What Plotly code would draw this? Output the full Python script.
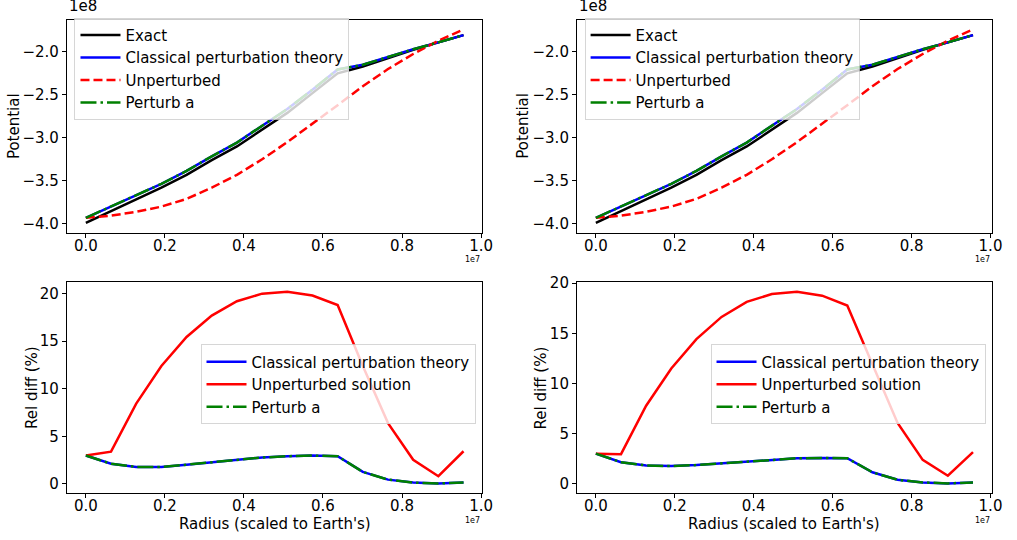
import plotly.graph_objects as go

# ---------------- data ----------------
radius_m = [0, 637100, 1274200, 1911300, 2548400, 3185500, 3822600, 4459700,
            5096800, 5733900, 6371000, 7008100, 7645200, 8282300, 8919400, 9556500]

# potentials, in units of 1e8
pot_exact = [-3.99, -3.855, -3.72, -3.58, -3.43, -3.26, -3.10, -2.91,
             -2.71, -2.48, -2.25, -2.17, -2.07, -1.975, -1.89, -1.805]
pot_classical = [-3.93, -3.80, -3.67, -3.535, -3.385, -3.215, -3.055, -2.865,
                 -2.665, -2.44, -2.205, -2.15, -2.06, -1.97, -1.89, -1.805]
pot_unperturbed = [-3.93, -3.905, -3.86, -3.80, -3.71, -3.58, -3.43, -3.25,
                   -3.05, -2.84, -2.62, -2.40, -2.20, -2.025, -1.87, -1.74]
pot_perturb_a = [-3.93, -3.80, -3.67, -3.535, -3.385, -3.215, -3.055, -2.865,
                 -2.665, -2.44, -2.205, -2.15, -2.06, -1.97, -1.89, -1.805]

# relative differences (%) - left panel
rel_classical_L = [2.99, 2.13, 1.79, 1.79, 2.03, 2.3, 2.58, 2.78,
                   2.92, 2.99, 2.92, 1.27, 0.46, 0.15, 0.06, 0.17]
rel_unpert_L = [3.0, 3.4, 8.45, 12.4, 15.45, 17.7, 19.2, 20.0,
                20.2, 19.8, 18.8, 12.4, 6.4, 2.55, 0.82, 3.44]
rel_perturb_a_L = [2.99, 2.13, 1.79, 1.79, 2.03, 2.3, 2.58, 2.78,
                   2.92, 2.99, 2.92, 1.27, 0.46, 0.15, 0.06, 0.17]

# relative differences (%) - right panel
rel_classical_R = [3.0, 2.15, 1.82, 1.76, 1.86, 2.02, 2.25, 2.41,
                   2.54, 2.57, 2.54, 1.14, 0.39, 0.13, 0.03, 0.13]
rel_unpert_R = [3.0, 2.95, 7.78, 11.5, 14.43, 16.64, 18.14, 18.93,
                19.15, 18.76, 17.78, 12.0, 6.06, 2.38, 0.8, 3.16]
rel_perturb_a_R = [3.0, 2.15, 1.82, 1.76, 1.86, 2.02, 2.25, 2.41,
                   2.54, 2.57, 2.54, 1.14, 0.39, 0.13, 0.03, 0.13]

X_SCALE = 1e7
x = [r / X_SCALE for r in radius_m]

FONT = "DejaVu Sans"
W, H = 1017, 540
LW = 2.5
DASH = "9px,4px"
DASHDOT = "16px,4px,2.5px,4px"

fig = go.Figure()


def add(xa, ya, yv, name, color, dash, legend):
    fig.add_trace(go.Scatter(x=x, y=yv, mode="lines", name=name,
                             line=dict(color=color, width=LW, dash=dash),
                             xaxis=xa, yaxis=ya, legend=legend))


# top panels
for xa, ya, lg in [("x", "y", "legend"), ("x2", "y2", "legend2")]:
    add(xa, ya, pot_exact, "Exact", "#000000", "solid", lg)
    add(xa, ya, pot_classical, "Classical perturbation theory", "#0000ff", "solid", lg)
    add(xa, ya, pot_unperturbed, "Unperturbed", "#ff0000", DASH, lg)
    add(xa, ya, pot_perturb_a, "Perturb a", "#008000", DASHDOT, lg)

# bottom panels
for xa, ya, lg, c, u, p in [("x3", "y3", "legend3", rel_classical_L, rel_unpert_L, rel_perturb_a_L),
                            ("x4", "y4", "legend4", rel_classical_R, rel_unpert_R, rel_perturb_a_R)]:
    add(xa, ya, c, "Classical perturbation theory", "#0000ff", "solid", lg)
    add(xa, ya, u, "Unperturbed solution", "#ff0000", "solid", lg)
    add(xa, ya, p, "Perturb a", "#008000", DASHDOT, lg)


def margin_range(vals):
    lo, hi = min(vals), max(vals)
    s = hi - lo
    return [lo - 0.05 * s, hi + 0.05 * s]


xr = margin_range(x)
top_r = margin_range(pot_exact + pot_classical + pot_unperturbed + pot_perturb_a)
botL_r = margin_range(rel_classical_L + rel_unpert_L + rel_perturb_a_L)
botR_r = margin_range(rel_classical_R + rel_unpert_R + rel_perturb_a_R)

ax_common = dict(showline=True, mirror=True, linecolor="black", linewidth=1.1,
                 ticks="outside", tickwidth=1.1, tickcolor="black",
                 showgrid=False, zeroline=False,
                 tickfont=dict(family=FONT, size=15, color="black"))

xL = [67.7 / W, 487.7 / W]
xR = [583.3 / W, 1002.7 / W]
yT = [1 - 228 / H, 1 - 12 / H]
yB = [1 - 492.3 / H, 1 - 278.3 / H]

xa_common = dict(range=xr, dtick=0.2, tick0=0, tickformat=".1f", ticklen=4,
                 ticklabelstandoff=-5, **ax_common)
ya_common = dict(ticklen=4, **ax_common)

fig.update_layout(
    width=W, height=H,
    margin=dict(l=0, r=0, t=0, b=0),
    paper_bgcolor="white", plot_bgcolor="white",
    font=dict(family=FONT, size=15, color="black"),
    xaxis=dict(domain=xL, anchor="y", **xa_common),
    xaxis2=dict(domain=xR, anchor="y2", **xa_common),
    xaxis3=dict(domain=xL, anchor="y3", **xa_common),
    xaxis4=dict(domain=xR, anchor="y4", **xa_common),
    yaxis=dict(domain=yT, anchor="x", range=top_r, dtick=0.5, tick0=0, tickformat=".1f", **ya_common),
    yaxis2=dict(domain=yT, anchor="x2", range=top_r, dtick=0.5, tick0=0, tickformat=".1f", **ya_common),
    yaxis3=dict(domain=yB, anchor="x3", range=botL_r, dtick=5, tick0=0, tickformat="d", **ya_common),
    yaxis4=dict(domain=yB, anchor="x4", range=botR_r, dtick=5, tick0=0, tickformat="d", **ya_common),
    showlegend=True,
)

leg_common = dict(bgcolor="rgba(255,255,255,0.8)", bordercolor="rgba(204,204,204,0.8)",
                  borderwidth=1, font=dict(family=FONT, size=15, color="black"),
                  xanchor="left", yanchor="top", itemwidth=40, tracegroupgap=0)
fig.update_layout(
    legend=dict(x=75.3 / W, y=1 - 10 / H, **leg_common),
    legend2=dict(x=591 / W, y=1 - 10 / H, **leg_common),
    legend3=dict(x=202.7 / W, y=1 - 341.5 / H, **leg_common),
    legend4=dict(x=718.3 / W, y=1 - 341.5 / H, **leg_common),
)

ann = []


def text(t, xp, yp, xa="center", ya="middle", size=15, angle=0):
    ann.append(dict(text=t, x=xp / W, y=1 - yp / H, xref="paper", yref="paper",
                    xanchor=xa, yanchor=ya, showarrow=False, textangle=angle,
                    font=dict(family=FONT, size=size, color="black")))


# axis titles
text("Potential", 14, 120, angle=-90)
text("Potential", 529.3, 120, angle=-90)
text("Rel diff (%)", 31.7, 385.3, angle=-90)
text("Rel diff (%)", 546.7, 385.3, angle=-90)
text("Radius (scaled to Earth's)", 277.7, 524)
text("Radius (scaled to Earth's)", 793, 524)
# offset texts
text("1e8", 67.7, 9, xa="left", ya="bottom")
text("1e8", 583.3, 9, xa="left", ya="bottom")
text("1e7", 487.7, 255, xa="right", size=8)
text("1e7", 1002.7, 255, xa="right", size=8)
text("1e7", 487.7, 520, xa="right", size=8)
text("1e7", 1002.7, 520, xa="right", size=8)

fig.update_layout(annotations=ann)

fig.write_html("out.html")
